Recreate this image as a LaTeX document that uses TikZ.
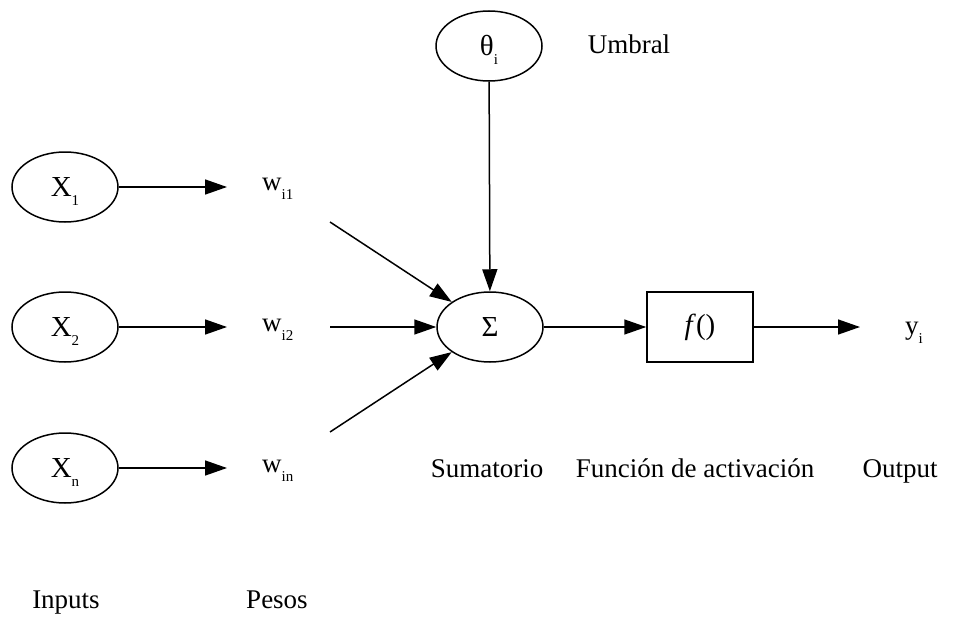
\documentclass[tikz,border=0pt]{standalone}
\usepackage{fontspec}
\setmainfont{Liberation Serif}
\usetikzlibrary{shapes.geometric,arrows.meta}

% lowered small index, kept out of the box height
\newcommand{\lowidx}[1]{\smash{\raisebox{-9pt}{\fontsize{15}{15}\selectfont #1}}}

\begin{document}
\begin{tikzpicture}[x=1pt,y=-1pt,
  every node/.style={font=\fontsize{27}{32}\selectfont, inner sep=0pt},
  oval/.style={draw, ellipse, line width=1.5pt, minimum width=106pt, minimum height=70pt,
    font=\fontsize{29}{32}\selectfont},
  fbox/.style={draw, rectangle, line width=1.5pt, minimum width=106pt, minimum height=70pt,
    font=\fontsize{29}{32}\selectfont},
  lbl/.style={anchor=base},
  wlbl/.style={anchor=base west},
  conn/.style={line width=1.5pt},
  arr/.style={conn, -{Triangle[length=22pt,width=15pt]}}]
\useasboundingbox (0,0) rectangle (955,626);

% neurons and blocks
\node[oval] (theta) at (489,46) {θ\lowidx{i}};
\node[oval] (x1) at (65,187) {X\lowidx{1}};
\node[oval] (x2) at (65,327) {X\lowidx{2}};
\node[oval] (xn) at (65,468) {X\lowidx{n}};
\node[oval] (sum) at (490,327) {Σ};
\node[fbox] (f) at (700,327) {\textit{f}()};

% weights and output
\node[wlbl] (w1) at (262,190) {w\lowidx{i1}};
\node[wlbl] (w2) at (262,331) {w\lowidx{i2}};
\node[wlbl] (wn) at (262,472) {w\lowidx{in}};
\node[wlbl] (y) at (905,334) {y\lowidx{i}};

% captions
\node[lbl] (umbral) at (629,54) {Umbral};
\node[lbl] (sumat) at (487,477) {Sumatorio};
\node[lbl] (factiv) at (695,477) {Función de activación};
\node[lbl] (outp) at (900,477) {Output};
\node[lbl] (inputs) at (66,608) {Inputs};
\node[lbl] (pesos) at (277,608) {Pesos};

% arrow ends and line starts
\coordinate (a1) at (227,187);
\coordinate (a2) at (227,327);
\coordinate (an) at (227,468);
\coordinate (s1) at (330,222);
\coordinate (s2) at (330,327);
\coordinate (sn) at (330,432);
\coordinate (yout) at (860,327);

% connectors
\draw[arr] (x1) -- (a1);
\draw[arr] (x2) -- (a2);
\draw[arr] (xn) -- (an);
\draw[arr] (s1) -- (sum);
\draw[arr] (s2) -- (sum);
\draw[arr] (sn) -- (sum);
\draw[arr] (theta) -- (sum);
\draw[arr] (sum) -- (f);
\draw[arr] (f) -- (yout);
\end{tikzpicture}
\end{document}
